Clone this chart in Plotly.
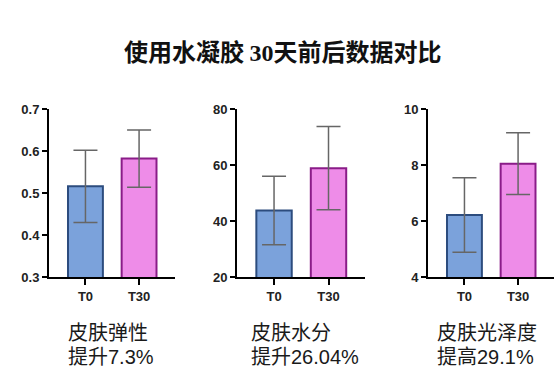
import plotly.graph_objects as go

categories = ["T0", "T30"]

elasticity = [0.516, 0.582]
elasticity_err = [0.086, 0.068]

moisture = [43.8, 58.9]
moisture_err = [12.2, 14.8]

gloss = [6.22, 8.05]
gloss_err = [1.33, 1.10]

panel_names = ["皮肤弹性", "皮肤水分", "皮肤光泽度"]
panel_changes = ["提升7.3%", "提升26.04%", "提高29.1%"]
y_ranges = [[0.3, 0.7], [20, 80], [4, 10]]
y_tickvals = [[0.3, 0.4, 0.5, 0.6, 0.7], [20, 40, 60, 80], [4, 6, 8, 10]]

W, H = 554, 392
fills = ["#7BA2DB", "#EE8CE8"]
borders = ["#2C4C7E", "#8A1C88"]

x_domains = [(49, 175), (237, 365), (428, 554)]
y_dom = (1 - 281 / H, 1 - 106 / H)
label_x = [67, 250, 436]

fig = go.Figure()
datasets = [(elasticity, elasticity_err), (moisture, moisture_err), (gloss, gloss_err)]
tickfont = dict(family="Liberation Sans", size=13, color="#222", weight="bold")

for i, (vals, errs) in enumerate(datasets):
    xa = "x" if i == 0 else f"x{i+1}"
    ya = "y" if i == 0 else f"y{i+1}"
    fig.add_trace(go.Bar(
        x=categories, y=vals, xaxis=xa, yaxis=ya, width=0.65,
        marker=dict(color=fills, line=dict(color=borders, width=2)),
        error_y=dict(type="data", array=errs, visible=True, color="#666666", thickness=1.5, width=12),
        showlegend=False,
    ))
    xkey = "xaxis" if i == 0 else f"xaxis{i+1}"
    ykey = "yaxis" if i == 0 else f"yaxis{i+1}"
    fig.layout[xkey] = dict(
        domain=[x_domains[i][0] / W, x_domains[i][1] / W], anchor=ya,
        range=[-0.68, 1.67], showline=True, linecolor="black", linewidth=2,
        ticks="outside", ticklen=6, tickwidth=2, tickcolor="black",
        tickfont=tickfont, showgrid=False, zeroline=False,
    )
    fig.layout[ykey] = dict(
        domain=list(y_dom), anchor=xa, range=y_ranges[i],
        tickvals=y_tickvals[i], showline=True, linecolor="black", linewidth=2,
        ticks="outside", ticklen=5, tickwidth=2, tickcolor="black",
        tickfont=tickfont, showgrid=False, zeroline=False,
    )
    for text, yc in ((panel_names[i], 339), (panel_changes[i], 364)):
        fig.add_annotation(
            x=label_x[i] / W, y=1 - yc / H, xref="paper", yref="paper",
            xanchor="left", yanchor="middle", align="left", showarrow=False,
            text=text, borderpad=0,
            font=dict(family="Liberation Sans, Noto Sans CJK SC", size=20, color="#1a1a1a"),
        )

fig.add_annotation(
    x=282 / W, y=1 - 45 / H, xref="paper", yref="paper", showarrow=False,
    xanchor="center", yanchor="middle",
    text="<b>使用水凝胶 <span style=\"font-family:'Liberation Serif'\">30</span>天前后数据对比</b>",
    font=dict(family="Noto Sans CJK SC", size=24, color="#111"),
)

fig.update_layout(
    width=W, height=H, margin=dict(l=0, r=0, t=0, b=0),
    paper_bgcolor="white", plot_bgcolor="white", bargap=0.35,
)

fig.write_html(
    "out.html",
    config={"displayModeBar": False},
    post_script="document.body.style.margin='0';document.body.style.padding='0';document.body.style.overflow='hidden';document.documentElement.style.overflow='hidden';",
)
